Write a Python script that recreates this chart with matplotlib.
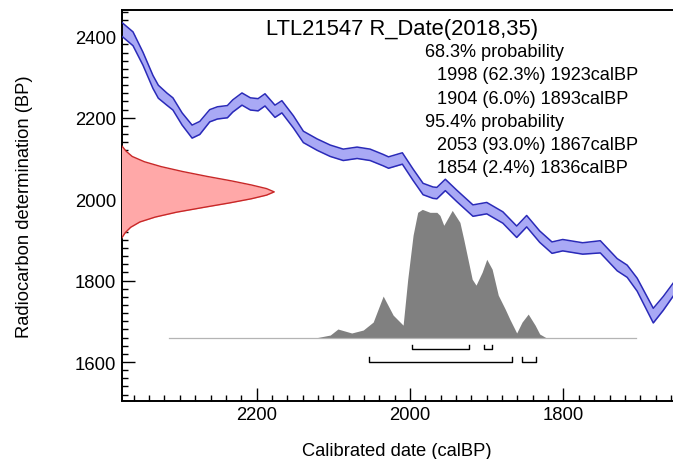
import numpy as np
import matplotlib.pyplot as plt
from matplotlib.ticker import MultipleLocator

plt.rcParams['font.family'] = ['Liberation Sans', 'DejaVu Sans']

# calibration curve: cal BP, radiocarbon age and 1 sigma
curve_cal = [2376, 2361, 2348, 2335, 2328, 2317, 2309, 2297, 2284, 2274, 2261, 2251,
             2238, 2231, 2219, 2208, 2198, 2189, 2176, 2167, 2152, 2139, 2121, 2104,
             2087, 2069, 2052, 2035, 2028, 2010, 1996, 1983, 1970, 1965, 1954, 1939,
             1918, 1900, 1879, 1861, 1848, 1831, 1815, 1801, 1775, 1752, 1730, 1717,
             1704, 1683, 1670, 1657]
curve_bp = [2418, 2394, 2345, 2288, 2264, 2246, 2234, 2197, 2166, 2175, 2205, 2212,
            2215, 2229, 2246, 2234, 2232, 2244, 2216, 2227, 2190, 2153, 2134, 2119,
            2109, 2114, 2109, 2096, 2090, 2100, 2060, 2025, 2016, 2015, 2035, 2008,
            1972, 1978, 1955, 1920, 1946, 1908, 1881, 1887, 1879, 1883, 1839, 1823,
            1790, 1714, 1744, 1778]
curve_err = [17, 17, 16, 16, 16, 15, 15, 15, 16, 16, 15, 15,
             15, 15, 15, 15, 15, 15, 15, 15, 15, 14, 14, 14,
             14, 14, 14, 14, 14, 14, 14, 14, 14, 14, 14, 14,
             14, 14, 14, 14, 14, 14, 14, 14, 14, 15, 15, 15,
             16, 18, 17, 16]

# measured date R_Date(2018,35), relative likelihood
r_mean, r_sigma = 2018, 35
lik_bp = [2132, 2118, 2105, 2092, 2080, 2068, 2056, 2045, 2035, 2026, 2018,
          2010, 2001, 1991, 1980, 1968, 1956, 1944, 1931, 1918, 1904]
lik_rel = [0.0, 0.03, 0.07, 0.15, 0.26, 0.40, 0.56, 0.72, 0.85, 0.95, 1.0,
           0.95, 0.85, 0.71, 0.54, 0.36, 0.22, 0.12, 0.06, 0.025, 0.0]

# calibrated probability distribution
prob_cal = [2314, 2124, 2104, 2094, 2076, 2061, 2048, 2035, 2022, 2009, 2003, 1996,
            1990, 1984, 1974, 1965, 1961, 1956, 1945, 1935, 1930, 1919, 1914, 1906,
            1900, 1893, 1885, 1876, 1870, 1861, 1854, 1846, 1837, 1831, 1822, 1705]
prob_rel = [0.0, 0.0, 0.023, 0.07, 0.039, 0.062, 0.124, 0.326, 0.178, 0.10, 0.457, 0.80,
            0.977, 1.0, 0.977, 0.977, 0.953, 0.876, 0.992, 0.899, 0.767, 0.457, 0.411, 0.512,
            0.612, 0.535, 0.333, 0.225, 0.147, 0.039, 0.124, 0.186, 0.10, 0.031, 0.0, 0.0]

# highest probability ranges
levels = ['68.3', '95.4']
ranges = [[(1998, 1923), (1904, 1893)],
          [(2053, 1867), (1854, 1836)]]
range_pct = [[62.3, 6.0], [93.0, 2.4]]

title = 'LTL21547 R_Date(%d,%d)' % (r_mean, r_sigma)

x_left, x_right = 2376, 1657.3
y_bot, y_top = 1505.5, 2464

fig = plt.figure(figsize=(6.73, 4.6), dpi=100)
ax = fig.add_axes([121.5 / 673, 58.5 / 460, 551.5 / 673, 390.2 / 460])

# calibration curve band
c = np.array(curve_bp)
e = np.array(curve_err)
ax.fill_between(curve_cal, c - e, c + e, color='#a9a9f5', lw=0, zorder=2)
ax.plot(curve_cal, c + e, color='#2a2ab8', lw=1.1, zorder=3)
ax.plot(curve_cal, c - e, color='#2a2ab8', lw=1.1, zorder=3)

# radiocarbon likelihood on the y axis
lik_width = 199
lx = x_left - np.array(lik_rel) * lik_width
ax.fill_betweenx(lik_bp, x_left, lx, color='#ffa8a8', lw=0, zorder=4)
ax.plot(lx, lik_bp, color='#c82828', lw=1.0, zorder=5)

# calibrated distribution
base = 1659
height = 316
ax.fill_between(prob_cal, base, base + np.array(prob_rel) * height,
                color='#808080', lw=0, zorder=1)
ax.plot([prob_cal[0], prob_cal[-1]], [base, base], color='#b4b4b4', lw=0.9, zorder=1)

# range brackets
bracket_y = [1631, 1600]
tick_h = 12
for yb, rr in zip(bracket_y, ranges):
    for a, b in rr:
        ax.plot([a, a, b, b], [yb + tick_h, yb, yb, yb + tick_h], color='black', lw=1.0,
                zorder=6)

ax.set_xlim(x_left, x_right)
ax.set_ylim(y_bot, y_top)

ax.xaxis.set_major_locator(MultipleLocator(200))
ax.xaxis.set_minor_locator(MultipleLocator(20))
ax.yaxis.set_major_locator(MultipleLocator(200))
ax.yaxis.set_minor_locator(MultipleLocator(20))
ax.tick_params(which='both', direction='in', labelsize=13.3, width=1.0, colors='black')
ax.tick_params(which='major', length=9.5, pad=4)
ax.tick_params(which='minor', length=4.5)
ax.tick_params(axis='y', which='major', pad=4)

for s in ['left', 'bottom', 'top']:
    ax.spines[s].set_linewidth(1.4)
ax.spines['right'].set_visible(False)

ax.set_xlabel('Calibrated date (calBP)', fontsize=13.2, labelpad=14)
ax.set_ylabel('Radiocarbon determination (BP)', fontsize=13.2, labelpad=30)

# title and probability summary
fig.text(266 / 673, 1 - 35 / 460, title, fontsize=15.8, va='baseline', ha='left')
lines = []
for lev, rr, pp in zip(levels, ranges, range_pct):
    lines.append((425, '%s%% probability' % lev))
    for (a, b), p in zip(rr, pp):
        lines.append((437, '%d (%.1f%%) %dcalBP' % (a, p, b)))
for i, (xp, txt) in enumerate(lines):
    fig.text(xp / 673, 1 - (57.3 + 23.2 * i) / 460, txt, fontsize=13.1,
             va='baseline', ha='left')

fig.savefig('out.png', dpi=100)
